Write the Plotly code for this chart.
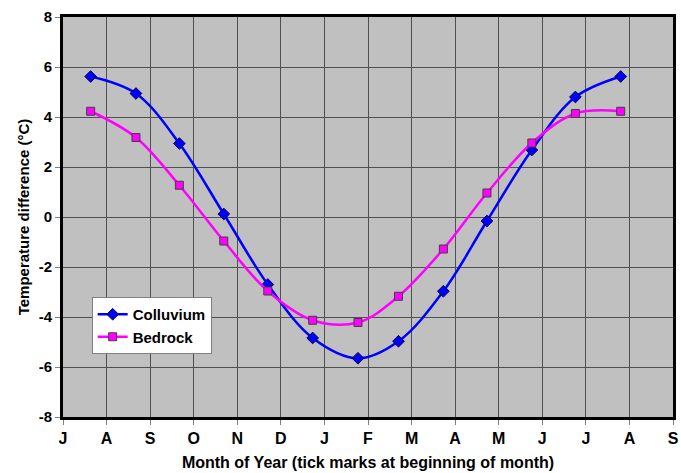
import plotly.graph_objects as go

months = ["J", "A", "S", "O", "N", "D", "J", "F", "M", "A", "M", "J", "J", "A", "S"]
month_pos = list(range(15))
y_ticks = [-8, -6, -4, -2, 0, 2, 4, 6, 8]
y_labels = ["-8", "-6", "-4", "-2", "0", "2", "4", "6", "8"]
x_pts = [0.635, 1.674, 2.67, 3.69, 4.70, 5.73, 6.77, 7.70, 8.73, 9.73, 10.76, 11.76, 12.80]
colluvium = [5.62, 4.94, 2.94, 0.12, -2.70, -4.84, -5.65, -4.97, -2.97, -0.16, 2.68, 4.80, 5.62]
bedrock = [4.23, 3.18, 1.27, -0.96, -2.96, -4.13, -4.22, -3.17, -1.28, 0.96, 2.96, 4.14, 4.23]

fig = go.Figure()
fig.add_trace(go.Scatter(
    x=x_pts, y=colluvium, name="Colluvium", mode="lines+markers",
    line=dict(color="#0000FF", width=2.5, shape="spline", smoothing=1.0),
    marker=dict(symbol="diamond", size=9, color="#0000FF", line=dict(color="#000040", width=1)),
))
fig.add_trace(go.Scatter(
    x=x_pts, y=bedrock, name="Bedrock", mode="lines+markers",
    line=dict(color="#FF00FF", width=2.5, shape="spline", smoothing=1.0),
    marker=dict(symbol="square", size=8, color="#FF00FF", line=dict(color="#404040", width=1)),
))

fig.update_layout(
    width=681, height=473,
    margin=dict(l=63, r=8, t=17, b=56),
    paper_bgcolor="white", plot_bgcolor="#C0C0C0",
    font=dict(family="Arial", size=15, color="black", weight="bold"),
    legend=dict(
        x=0.047, y=0.30, xanchor="left", yanchor="top",
        bgcolor="white", bordercolor="#808080", borderwidth=1,
        font=dict(size=15, weight="bold"), tracegroupgap=0,
        itemwidth=30,
    ),
    showlegend=True,
)
fig.update_xaxes(
    range=[0, 14], tickvals=month_pos, ticktext=months,
    showgrid=True, gridcolor="#505050", gridwidth=1,
    showline=True, linecolor="black", linewidth=3, mirror=True,
    ticks="outside", ticklen=5, tickcolor="#808080", tickwidth=1,
    tickfont=dict(size=16, weight="bold"),
    title=dict(text="Month of Year (tick marks at beginning of month)", font=dict(size=16, weight="bold"), standoff=11),
    zeroline=False, automargin=False,
)
fig.update_yaxes(
    range=[-8, 8], tickvals=y_ticks, ticktext=y_labels,
    showgrid=True, gridcolor="#505050", gridwidth=1,
    showline=True, linecolor="black", linewidth=3, mirror=True,
    ticks="outside", ticklen=5, tickcolor="#808080", tickwidth=1,
    tickfont=dict(size=15, weight="bold"),
    title=dict(text="Temperature difference (°C)", font=dict(size=15, weight="bold"), standoff=6),
    zeroline=False, automargin=False,
)

fig.write_html("out.html")
